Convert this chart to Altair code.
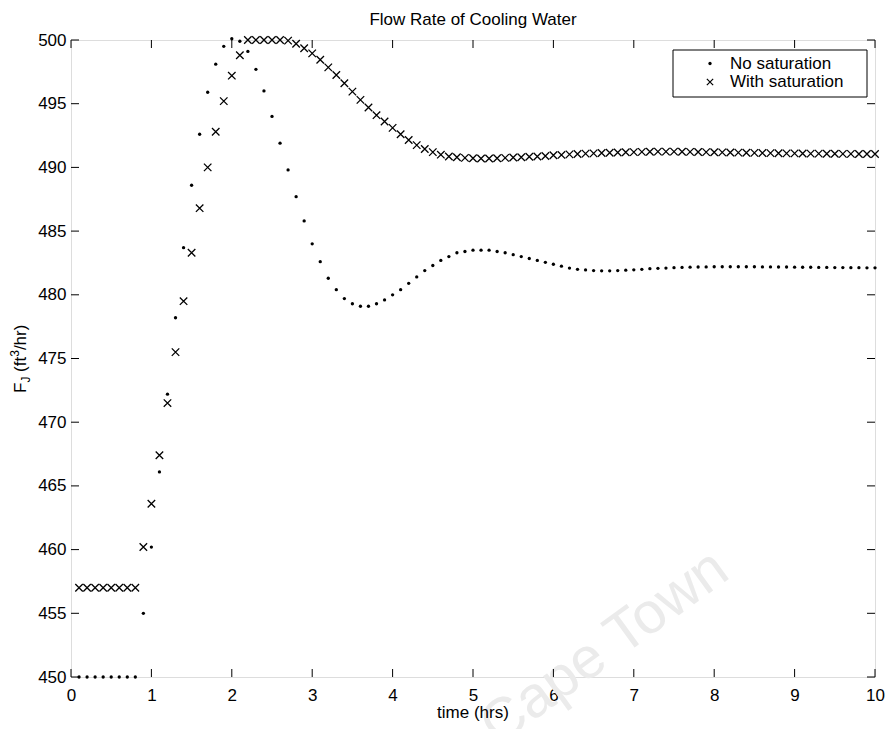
import altair as alt
import pandas as pd

FONT = "Liberation Sans"

# Sample times (hrs)
time_hrs = [round(0.1 * k, 1) for k in range(1, 101)]

# Cooling-water flow rate without valve saturation (ft^3/hr)
no_saturation = [
    450.0, 450.0, 450.0, 450.0, 450.0, 450.0, 450.0, 450.0, 455.0, 460.2,
    466.1, 472.2, 478.2, 483.7, 488.6, 492.6, 495.9, 498.1, 499.5, 500.1,
    499.9, 499.1, 497.7, 496.0, 494.0, 491.9, 489.8, 487.7, 485.8, 484.0,
    482.6, 481.3, 480.4, 479.7, 479.3, 479.1, 479.1, 479.3, 479.6, 480.0,
    480.4, 480.9, 481.4, 481.9, 482.3, 482.7, 483.0, 483.3, 483.4, 483.5,
    483.5, 483.5, 483.4, 483.3, 483.15, 483.0, 482.85, 482.7, 482.55, 482.4,
    482.25, 482.1, 482.0, 481.95, 481.9, 481.88, 481.88, 481.9, 481.93, 481.96,
    482.0, 482.05, 482.08, 482.1, 482.13, 482.15, 482.17, 482.18, 482.19, 482.2,
    482.2, 482.2, 482.2, 482.2, 482.2, 482.19, 482.19, 482.18, 482.18, 482.17,
    482.16, 482.16, 482.15, 482.15, 482.14, 482.14, 482.13, 482.13, 482.12, 482.12,
]

# Cooling-water flow rate with the valve saturating at 500 ft^3/hr
with_saturation = [
    457.0, 457.0, 457.0, 457.0, 457.0, 457.0, 457.0, 457.0, 460.2, 463.6,
    467.4, 471.5, 475.5, 479.5, 483.3, 486.8, 490.0, 492.8, 495.2, 497.2,
    498.8, 500.0, 500.0, 500.0, 500.0, 500.0, 499.95, 499.7, 499.35, 498.95,
    498.45, 497.85, 497.25, 496.6, 495.95, 495.3, 494.7, 494.1, 493.6, 493.1,
    492.6, 492.15, 491.75, 491.45, 491.2, 491.0, 490.85, 490.8, 490.75, 490.72,
    490.7, 490.7, 490.72, 490.75, 490.78, 490.8, 490.83, 490.86, 490.9, 490.95,
    490.98, 491.02, 491.05, 491.08, 491.1, 491.13, 491.15, 491.17, 491.19, 491.2,
    491.22, 491.23, 491.24, 491.24, 491.24, 491.23, 491.22, 491.21, 491.2, 491.19,
    491.18, 491.17, 491.16, 491.15, 491.14, 491.13, 491.12, 491.11, 491.1, 491.1,
    491.09, 491.08, 491.08, 491.07, 491.07, 491.06, 491.06, 491.05, 491.05, 491.05,
]

x_ticks = [0, 1, 2, 3, 4, 5, 6, 7, 8, 9, 10]
y_ticks = [450, 455, 460, 465, 470, 475, 480, 485, 490, 495, 500]

legend_labels = ["No saturation", "With saturation"]

W, H = 804, 637
TICK = 8
LABEL_SIZE = 17
CROSS = "M-1,-1L1,1M-1,1L1,-1"

df = pd.DataFrame({"t": time_hrs, "no_sat": no_saturation, "with_sat": with_saturation})
xt = pd.DataFrame({"v": x_ticks})
yt = pd.DataFrame({"v": y_ticks})
one = pd.DataFrame({"k": [0]})

x_scale = alt.Scale(domain=[0, 10], nice=False, zero=False)
y_scale = alt.Scale(domain=[450, 500], nice=False, zero=False)

x_axis = alt.Axis(values=x_ticks, format="d", labelFont=FONT, labelFontSize=LABEL_SIZE,
                  labelColor="black", labelPadding=10, domain=False, ticks=False,
                  grid=False, title=None, labelFlush=False)
y_axis = alt.Axis(values=y_ticks, format="d", labelFont=FONT, labelFontSize=LABEL_SIZE,
                  labelColor="black", labelPadding=5, domain=False, ticks=False,
                  grid=False, title=None, labelFlush=False)


def xq(field):
    return alt.X(field, type="quantitative", scale=x_scale, axis=x_axis)


def yq(field):
    return alt.Y(field, type="quantitative", scale=y_scale, axis=y_axis)


dots = alt.Chart(df).mark_circle(size=11, color="black", opacity=1).encode(
    x=xq("t"), y=yq("no_sat"),
)

crosses = alt.Chart(df).mark_point(shape=CROSS, size=56, filled=False, color="black",
                                   strokeWidth=1.3, opacity=1).encode(
    x=xq("t"), y=yq("with_sat"),
)

# Inward tick marks on all four sides of the box
tick_style = dict(color="black", strokeWidth=1)
bottom_ticks = alt.Chart(xt).mark_rule(**tick_style).encode(
    x=xq("v"), y=alt.value(H - TICK), y2=alt.value(H))
top_ticks = alt.Chart(xt).mark_rule(**tick_style).encode(
    x=xq("v"), y=alt.value(0), y2=alt.value(TICK))
left_ticks = alt.Chart(yt).mark_rule(**tick_style).encode(
    y=yq("v"), x=alt.value(0), x2=alt.value(TICK))
right_ticks = alt.Chart(yt).mark_rule(**tick_style).encode(
    y=yq("v"), x=alt.value(W - TICK), x2=alt.value(W))


def text_at(txt, x, y, size=LABEL_SIZE, angle=0, align="left", baseline="alphabetic",
            color="black"):
    return alt.Chart(one).mark_text(
        text=txt, font=FONT, fontSize=size, angle=angle, align=align,
        baseline=baseline, color=color,
    ).encode(x=alt.value(x), y=alt.value(y))


title = text_at("Flow Rate of Cooling Water", W / 2, -15, align="center")
x_title = text_at("time (hrs)", W / 2, 678, align="center")

# y-axis title  F_J (ft^3/hr), built from pieces for the subscript and superscript
bx, y0 = -45, 353
y_title = [
    text_at("F", bx, y0, angle=270),
    text_at("J", bx + 4, y0 - 10.4, size=12, angle=270),
    text_at("(ft", bx, y0 - 21.1, angle=270),
    text_at("3", bx - 7, y0 - 36.2, size=12, angle=270),
    text_at("/hr)", bx, y0 - 42.9, angle=270),
]

# Legend box
lx0, lx1, ly0, ly1 = 602, 796, 10, 57
legend_box = alt.Chart(one).mark_rect(fill="white", stroke="black", strokeWidth=1).encode(
    x=alt.value(lx0), x2=alt.value(lx1), y=alt.value(ly0), y2=alt.value(ly1))
legend_dot = alt.Chart(one).mark_circle(size=11, color="black", opacity=1).encode(
    x=alt.value(639), y=alt.value(23.5))
legend_cross = alt.Chart(one).mark_point(shape=CROSS, size=40, filled=False, color="black",
                                         strokeWidth=1.2, opacity=1).encode(
    x=alt.value(639), y=alt.value(42))
legend_text = [
    text_at(legend_labels[0], 659, 23.5, baseline="middle"),
    text_at(legend_labels[1], 659, 42, baseline="middle"),
]

# Faint diagonal stamp in the lower right
watermark = text_at("Cape Town", 534, 608, size=58, angle=324, align="center",
                    baseline="middle", color="#ebebeb")

chart = alt.layer(
    watermark, dots, crosses, bottom_ticks, top_ticks, left_ticks, right_ticks,
    title, x_title, *y_title, legend_box, legend_dot, legend_cross, *legend_text,
).properties(
    width=W, height=H,
    autosize=alt.AutoSizeParams(type="none"),
    padding={"left": 71, "top": 40, "right": 14, "bottom": 52},
).configure_view(
    stroke="black", strokeWidth=1,
).configure(background="white")

chart.save("out.html", embed_options={"renderer": "svg", "actions": False})
